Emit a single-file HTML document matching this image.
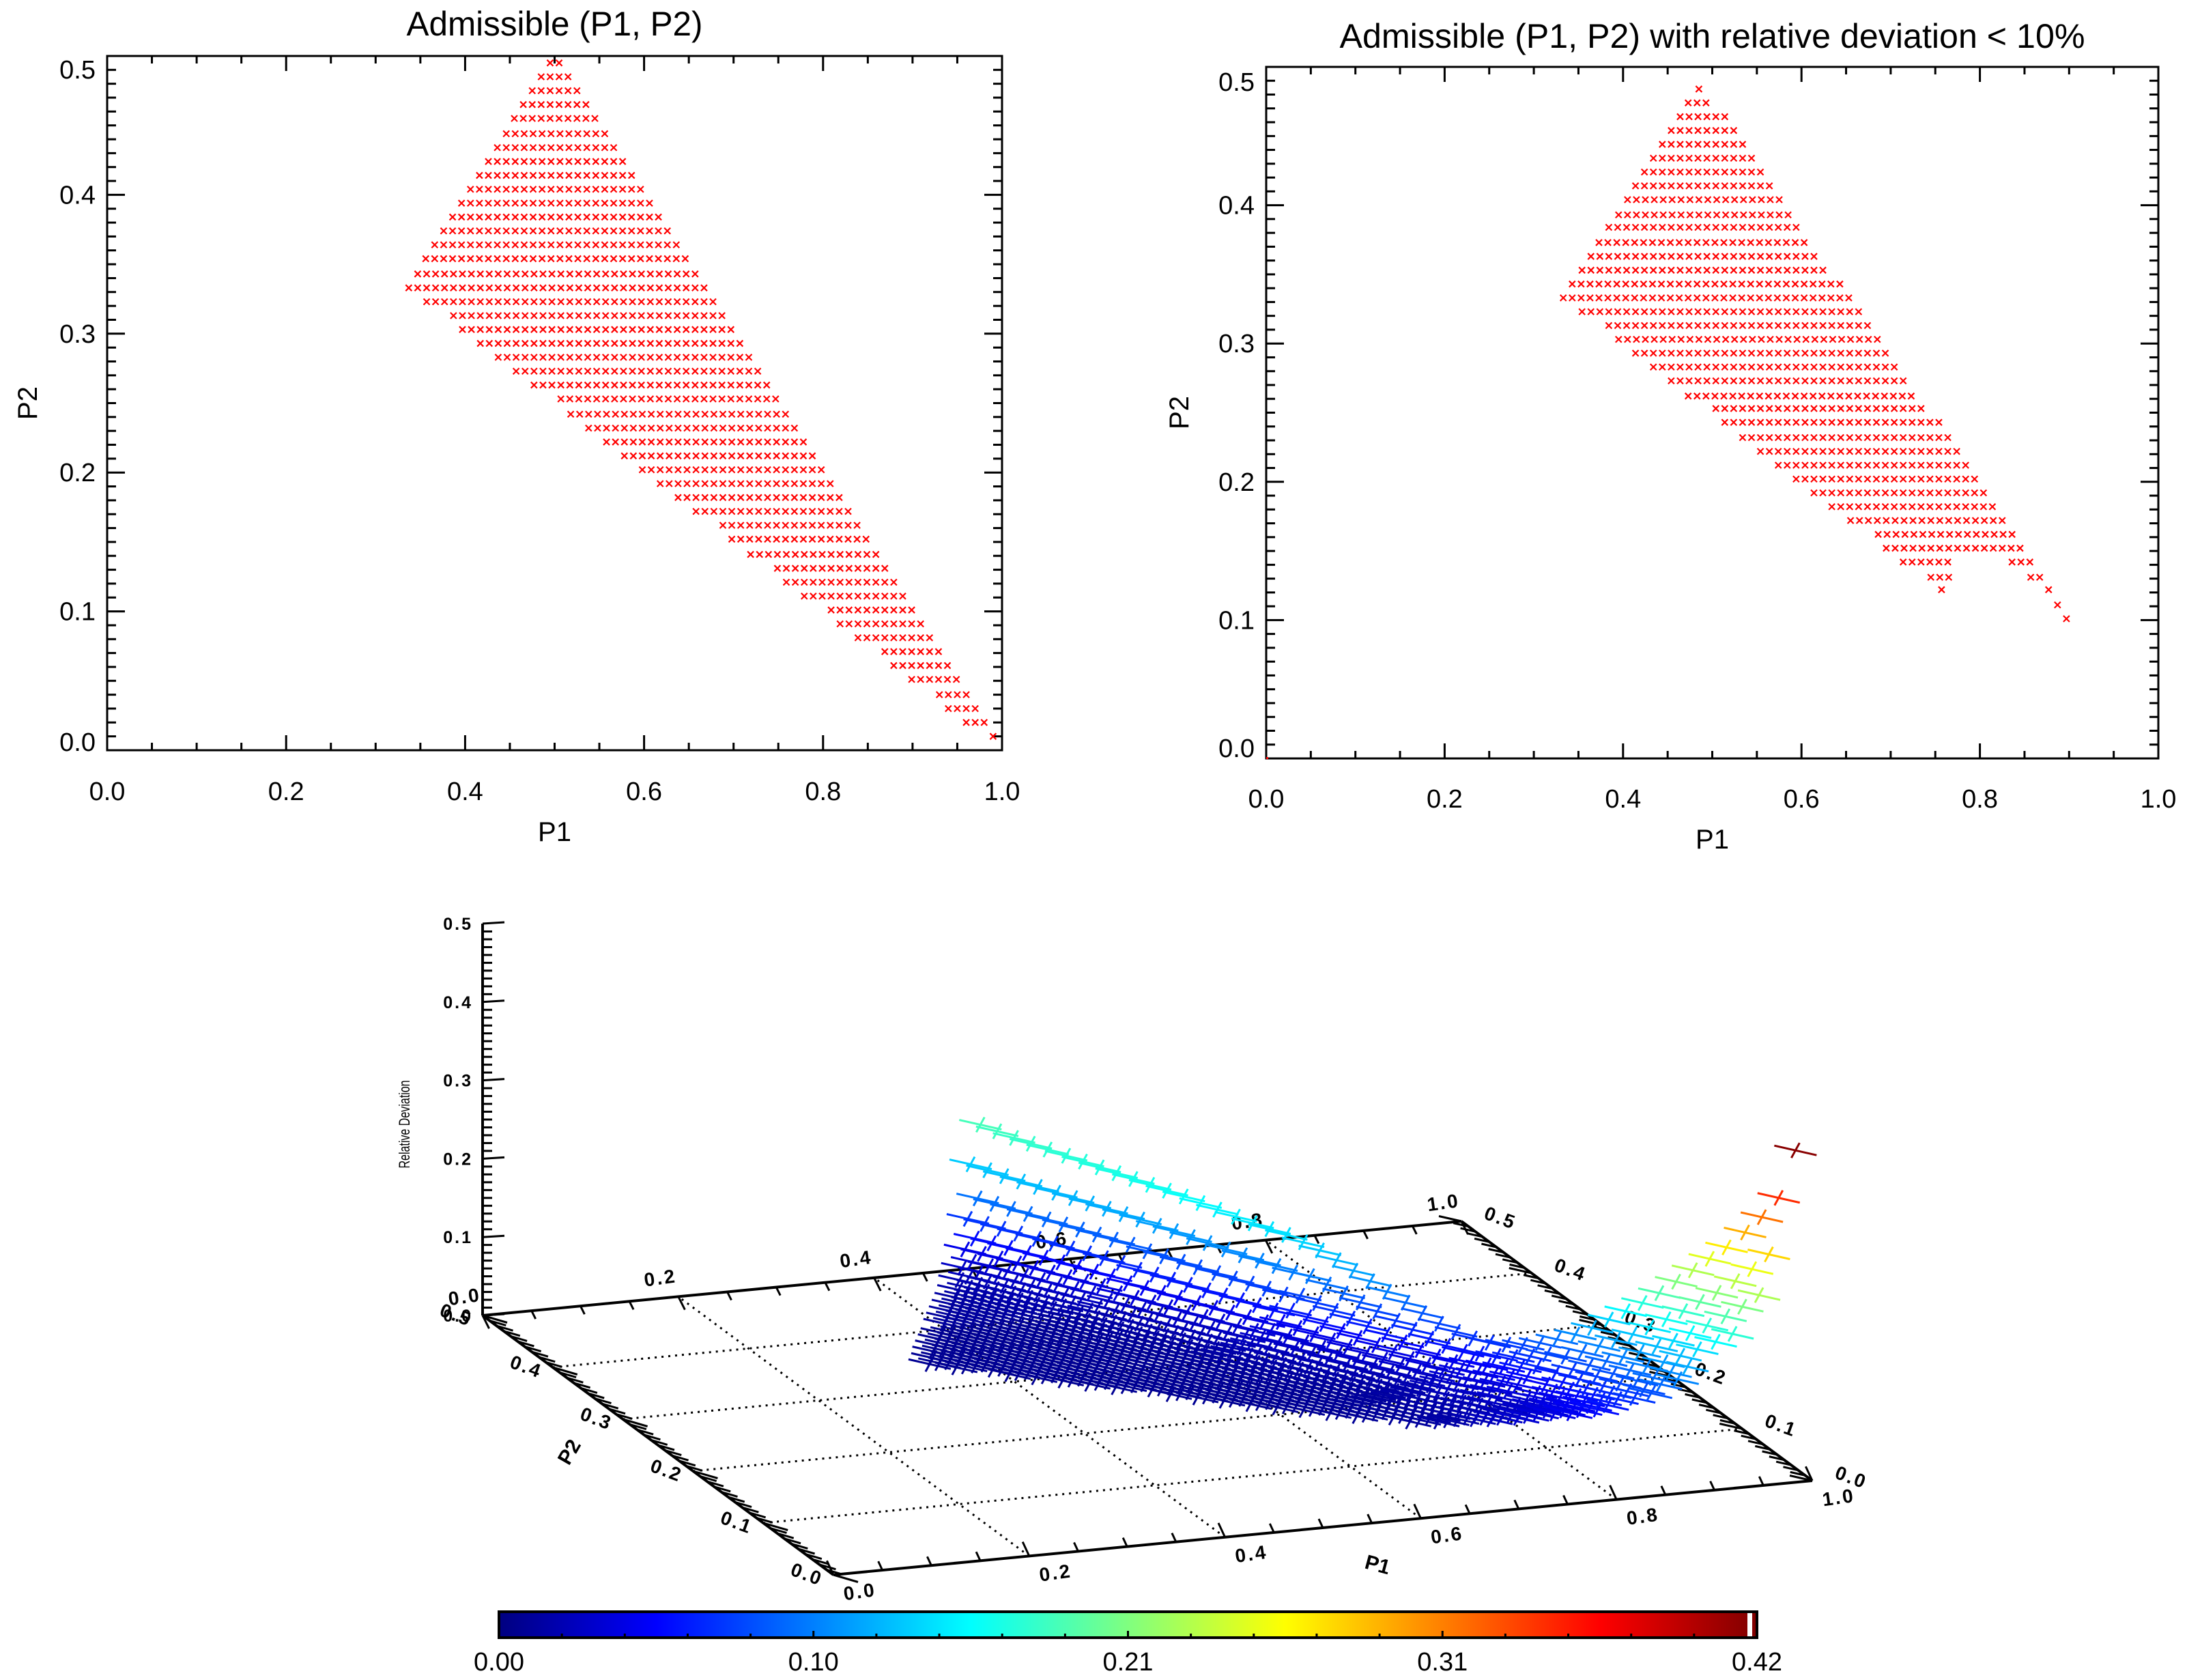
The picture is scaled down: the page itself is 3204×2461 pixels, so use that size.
<!DOCTYPE html>
<html>
<head>
<meta charset="utf-8">
<style>
html,body{margin:0;padding:0;background:#fff;}
svg{display:block;}
text{font-family:"Liberation Sans",sans-serif;fill:#000;}
</style>
</head>
<body>
<svg id="root" width="3204" height="2461" viewBox="0 0 3204 2461" xmlns="http://www.w3.org/2000/svg">
<rect x="0" y="0" width="3204" height="2461" fill="#fff"/>
<defs>
<linearGradient id="jet" x1="0" x2="1" y1="0" y2="0">
<stop offset="0" stop-color="#000080"/>
<stop offset="0.125" stop-color="#0000ff"/>
<stop offset="0.375" stop-color="#00ffff"/>
<stop offset="0.625" stop-color="#ffff00"/>
<stop offset="0.875" stop-color="#ff0000"/>
<stop offset="1" stop-color="#800000"/>
</linearGradient>
</defs>
<g id="left-plot"></g>
<g id="right-plot"></g>
<g id="plot3d"></g>
<g id="cbar"></g>
</svg>
<script>
// ---- Left plot data: admissible rows ----
const p2Rows=[.495,.485,.475,.465,.455,.444,.434,.424,.414,.404,.394,.384,.374,.364,.354,.343,.333,.323,.313,.303,.293,.283,.273,.263,.253,.242,.232,.222,.212,.202,.192,.182,.172,.162,.152,.141,.131,.121,.111,.101,.091,.081,.071,.061,.051,.040,.030,.020,.010];
const p1Start=[.495,.485,.475,.465,.455,.446,.436,.426,.416,.406,.396,.386,.376,.366,.356,.347,.337,.357,.387,.397,.417,.437,.457,.477,.507,.518,.538,.558,.578,.598,.618,.638,.658,.688,.698,.719,.749,.759,.779,.809,.819,.839,.869,.879,.899,.93,.94,.96,.99];
const p1Count=[2,4,6,8,10,12,14,16,18,20,22,24,26,28,30,32,34,33,31,31,30,29,28,27,25,25,24,23,22,21,20,19,18,16,16,15,13,13,12,10,10,9,7,7,6,4,4,3,1];
// ---- Right plot data: deviation < 10% row segments ----
const devP2=[.484,.474,.464,.454,.444,.434,.424,.414,.404,.393,.384,.373,.363,.353,.343,.333,.323,.313,.303,.293,.283,.273,.262,.253,.243,.232,.222,.212,.202,.192,.182,.172,.162,.152,.142,.142,.131,.131,.122,.122,.111,.101];
const devStart=[.485,.473,.464,.454,.444,.434,.424,.414,.405,.395,.384,.373,.364,.354,.343,.333,.354,.384,.395,.414,.434,.454,.473,.504,.514,.534,.554,.574,.594,.614,.634,.655,.686,.695,.714,.836,.745,.857,.757,.877,.887,.897];
const devCount=[1,3,6,8,10,12,14,16,18,20,22,24,26,28,31,33,32,30,30,29,28,27,26,24,25,24,23,22,21,20,19,18,16,16,6,3,3,2,1,1,1,1];
// ---- 3D surface: relative deviation per row (edge value at P1+P2=1, floor, decay width) ----
const zEdge=[.186,.183,.18,.178,.176,.174,.172,.17,.168,.166,.164,.162,.16,.157,.154,.151,.148,.146,.144,.14,.135,.128,.12,.112,.104,.096,.088,.08,.075,.072,.072,.075,.08,.088,.098,.11,.124,.14,.156,.172,.19,.21,.23,.25,.27,.295,.32,.35,.416];
const zBase=[.012,.012,.012,.012,.012,.012,.012,.012,.012,.012,.012,.008,.008,.008,.008,.008,.008,.008,.008,.008,.008,.008,.008,.008,.008,.008,.008,.008,.008,.008,.008,.008,.008,.008,.008,.015,.02,.025,.03,.035,.04,.045,.05,.06,.07,.08,.09,.1,.12];
const zDecay=[.03,.03,.03,.03,.03,.03,.03,.03,.03,.03,.03,.03,.03,.03,.03,.03,.03,.03,.03,.03,.035,.035,.035,.035,.035,.035,.035,.035,.035,.035,.045,.045,.045,.045,.045,.03,.03,.03,.03,.03,.03,.03,.03,.03,.03,.03,.03,.03,.03];
// ---- Colorbar ----
const cbarLabels=["0.00","0.10","0.21","0.31","0.42"];
const zMax=0.42;
const xTickLabels=["0.0","0.2","0.4","0.6","0.8","1.0"];
const yTickLabels=["0.0","0.1","0.2","0.3","0.4","0.5"];

const NS="http://www.w3.org/2000/svg";
function mk(tag,attrs,parent){const e=document.createElementNS(NS,tag);for(const k in attrs)e.setAttribute(k,attrs[k]);parent.appendChild(e);return e;}
function line(p,x1,y1,x2,y2,w,c){return mk('line',{x1:x1,y1:y1,x2:x2,y2:y2,stroke:c||'#000','stroke-width':w||3},p);}
function txt(p,x,y,s,size,anchor,extra){const t=mk('text',{x:x,y:y,'font-size':size,'text-anchor':anchor||'middle'},p);if(extra)for(const k in extra)t.setAttribute(k,extra[k]);t.textContent=s;return t;}

function jet(t){t=Math.max(0,Math.min(1,t));const cl=v=>Math.round(255*Math.max(0,Math.min(1,v)));
 return 'rgb('+cl(1.5-Math.abs(4*t-3))+','+cl(1.5-Math.abs(4*t-2))+','+cl(1.5-Math.abs(4*t-1))+')';}

function drawAxes(g,x0,x1,y0,y1,title,titleY,titleW,xlabY,yLabX,p1Y,p2X,shiftTop,shiftBot){
 const xs=v=>x0+v*(x1-x0), ys=v=>y1-v/0.5*(y1-y0);
 const box=mk('rect',{x:x0,y:y0,width:x1-x0,height:y1-y0,fill:'none',stroke:'#000','stroke-width':3},g);
 
 for(let i=0;i<=20;i++){const x=xs(i*0.05);const L=(i%4===0)?22:11;line(g,x,y1,x,y1-L,3);line(g,x,y0,x,y0+L,3);}
 for(let i=0;i<=50;i++){const y=ys(i*0.01);const L=(i%10===0)?26:13;line(g,x0,y,x0+L,y,3);line(g,x1,y,x1-L,y,3);}
 for(let i=0;i<6;i++){const t=txt(g,xs(i*0.2),xlabY,xTickLabels[i],38,'middle');}
 for(let i=0;i<6;i++){let yc=ys(i*0.1);if(i===5)yc+=shiftTop;if(i===0)yc-=shiftBot;const t=txt(g,yLabX,yc+13,yTickLabels[i],38,'end');}
 const tt=txt(g,(x0+x1)/2,titleY,title,50,'middle',{textLength:titleW,lengthAdjust:'spacingAndGlyphs'});
 
 const xt=txt(g,(x0+x1)/2,p1Y,'P1',40,'middle');
 const yt=txt(g,p2X,(y0+y1)/2+14,'P2',40,'middle',{transform:'rotate(-90 '+p2X+' '+((y0+y1)/2)+')'});
 
 return [xs,ys];
}
function cross2(g,x,y){const s=4.5;const gg=mk('g',{stroke:'#ff0000','stroke-width':2.2},g);
 
 mk('line',{x1:x-s,y1:y-s,x2:x+s,y2:y+s},gg);mk('line',{x1:x-s,y1:y+s,x2:x+s,y2:y-s},gg);}

// Left plot
const gL=document.getElementById('left-plot');
const [xL,yL]=drawAxes(gL,157,1468,82,1099,'Admissible (P1, P2)',52,434,1172,140,1232,40,20,12);
for(let k=0;k<p2Rows.length;k++)for(let j=0;j<p1Count[k];j++)cross2(gL,xL(p1Start[k]+0.01*j),yL(p2Rows[k]));

// Right plot
const gR=document.getElementById('right-plot');
const [xR,yR]=drawAxes(gR,1855,3162,98,1111,'Admissible (P1, P2) with relative deviation < 10%',70,1092,1183,1838,1243,1727,22,15);
for(let k=0;k<devP2.length;k++)for(let j=0;j<devCount[k];j++)cross2(gR,xR(devStart[k]+0.01*j),yR(devP2[k]));
mk('rect',{x:1855,y:1109,width:3,height:3,fill:'#ff0000'},gR);

// 3D plot
const g3=document.getElementById('plot3d');
const O=[1221,2307],V1=[1434,-138],V2=[-1028,-760],VZ=1148;
function proj(p1,p2,z){return [O[0]+V1[0]*p1+V2[0]*p2, O[1]+V1[1]*p1+V2[1]*p2-VZ*z];}
function dotted(a,b){const l=mk('line',{x1:a[0],y1:a[1],x2:b[0],y2:b[1],stroke:'#000','stroke-width':3,'stroke-dasharray':'3,7'},g3);
 }
for(const v of [0.2,0.4,0.6,0.8])dotted(proj(v,0,0),proj(v,0.5,0));
for(const v of [0.1,0.2,0.3,0.4])dotted(proj(0,v,0),proj(1,v,0));
const BL=proj(0,0.5,0),BR=proj(1,0.5,0),FL=proj(0,0,0),FR=proj(1,0,0);
for(const [a,b] of [[BL,BR],[BR,FR],[FR,FL],[FL,BL]])line(g3,a[0],a[1],b[0],b[1],4);
// z axis
const ZT=proj(0,0.5,0.5);line(g3,BL[0],BL[1],ZT[0],ZT[1],4);
for(let i=0;i<=50;i++){const p=proj(0,0.5,i*0.01);const L=(i%10===0)?32:14;line(g3,p[0],p[1],p[0]+L,p[1]-(i%10===0?2:0),3);}
for(let i=0;i<=5;i++){const p=proj(0,0.5,i*0.1);const t=txt(g3,p[0]-14,p[1]+9,yTickLabels[i],25,'end',{'font-weight':'bold','letter-spacing':'3'});}
const zt=txt(g3,600,1647,'Relative Deviation',22,'middle',{transform:'rotate(-90 600 1647)',textLength:129,lengthAdjust:'spacingAndGlyphs'});

// edge ticks
for(let i=0;i<=50;i++){const p=proj(0,i*0.01,0);const L=(i%10===0)?1.5:1;line(g3,p[0],p[1],p[0]+24*L,p[1]+7*L,3);
 const q=proj(1,i*0.01,0);line(g3,q[0],q[1],q[0]-22*L,q[1]-5*L,3);}
for(let i=0;i<=20;i++){const p=proj(i*0.05,0,0);const L=(i%4===0)?1.6:1;line(g3,p[0],p[1],p[0]-6*L,p[1]-13*L,3);
 const q=proj(i*0.05,0.5,0);line(g3,q[0],q[1],q[0]+6*L,q[1]+12*L,3);}
const lab3={'font-weight':'bold','letter-spacing':'3'};
function lab(x,y,s,rot,name){const t=txt(g3,x,y,s,28,'middle',Object.assign({transform:'rotate('+rot+' '+x+' '+y+')'},lab3));}
for(let i=0;i<=5;i++){const v=i*0.2;
 let p=proj(v,0.5,0);lab(p[0]-25,p[1]-18,xTickLabels[i],-8,'back-p1-tick-label');
 p=proj(v,0,0);lab(p[0]+40,p[1]+34,xTickLabels[i],-8,'p1-tick-label');}
for(let i=0;i<=5;i++){const v=i*0.1;
 let p=proj(1,v,0);lab(p[0]+54,p[1]+4,yTickLabels[i],20,'right-p2-tick-label');
 p=proj(0,v,0);lab(p[0]-42,p[1]+8,yTickLabels[i],20,'p2-tick-label');}
let t3=txt(g3,2018,2302,'P1',30,'middle',{'font-weight':'bold',transform:'rotate(15 2018 2293)'});
t3=txt(g3,834,2137,'P2',30,'middle',{'font-weight':'bold',transform:'rotate(-60 834 2127)'});
// surface markers
for(let k=0;k<p2Rows.length;k++){for(let j=0;j<p1Count[k];j++){
 const p1=p1Start[k]+0.01*j,p2=p2Rows[k];const s=Math.min(1,p1+p2);
 const z=zBase[k]+(zEdge[k]-zBase[k])*Math.exp(-(1-s)/zDecay[k]);
 const c=proj(p1,p2,z);const col=jet(z/zMax);
 const gg=mk('g',{stroke:col,'stroke-width':3},g3);
 
 
 mk('line',{x1:c[0]-31,y1:c[1]-7,x2:c[0]+31,y2:c[1]+7},gg);
 mk('line',{x1:c[0]+6,y1:c[1]-11,x2:c[0]-6,y2:c[1]+11},gg);}}

// Colorbar
const gc=document.getElementById('cbar');
const cx0=731,cx1=2574,cy0=2361,cy1=2399;
const cb=mk('rect',{x:cx0,y:cy0,width:cx1-cx0,height:cy1-cy0,fill:'url(#jet)',stroke:'none'},gc);

mk('rect',{x:2560,y:cy0,width:7,height:cy1-cy0,fill:'#ffffff'},gc);
mk('rect',{x:cx0,y:cy0,width:cx1-cx0,height:cy1-cy0,fill:'none',stroke:'#000','stroke-width':4},gc);
for(let i=0;i<=20;i++){const x=cx0+(cx1-cx0)*i/20;const L=(i%5===0)?10:6;line(gc,x,cy1,x,cy1-L,3);}
for(let i=0;i<cbarLabels.length;i++){const t=txt(gc,cx0+(cx1-cx0)*i/4,2447,cbarLabels[i],38,'middle');}
</script>
</body>
</html>
